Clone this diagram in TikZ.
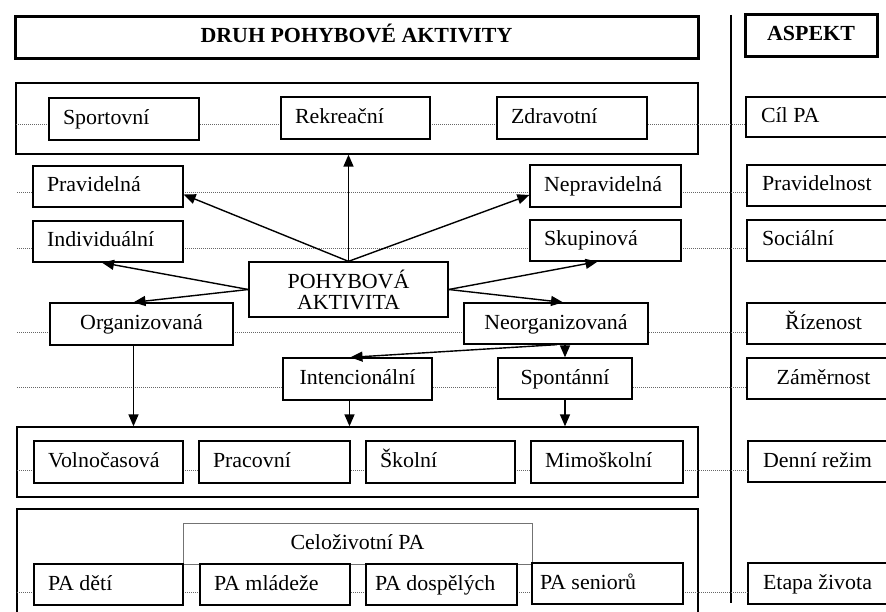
\documentclass[tikz,border=0pt]{standalone}
\usepackage{fontspec}
\setmainfont{Liberation Serif}[FakeStretch=1.02]
\usetikzlibrary{arrows.meta,calc}
\newcommand\bx[9]{% #1 style, #2 name, #3 x1, #4 y1, #5 x2, #6 y2, #7 pad, #8 l/c, #9 text
  \pgfmathsetmacro\bxw{#5-#3}\pgfmathsetmacro\bxh{#6-#4}\pgfmathsetmacro\bxt{#5-#3-2*#7}%
  \pgfmathsetmacro\bxcx{(#3+#5)/2}\pgfmathsetmacro\bxcy{(#4+#6)/2}%
  \node[#1, inner xsep=#7pt, inner ysep=0pt, minimum width=\bxw pt, minimum height=\bxh pt] (#2) at (\bxcx,\bxcy) {\makebox[\bxt pt][#8]{#9}};}
\tikzset{
  every node/.style={font=\fontsize{21.5}{24}\selectfont, text height=15pt, text depth=4pt},
  grp/.style={draw=black, line width=1.3pt},
  lbox/.style={draw=black, fill=white, line width=1.3pt},
  cbox/.style={draw=black, fill=white, line width=1.3pt},
  headbox/.style={draw=black, fill=white, line width=3pt, text height=14pt, text depth=4pt, font=\fontsize{21.5}{24}\selectfont\bfseries},
  lifebox/.style={draw=black!55, line width=0.8pt},
  dotline/.style={draw=black!60, line width=1pt, densely dotted},
  arr/.style={draw=black, line width=1.4pt, -{Triangle[length=12pt,width=10pt]}},
  vline/.style={draw=black, line width=1.3pt}
}
\begin{document}
\begin{tikzpicture}[x=1pt,y=-1pt]
\useasboundingbox (0,0) rectangle (886,612);
\fill[white] (0,0) rectangle (886,612);
\clip (0,0) rectangle (886,612);

% group boxes
\bx{grp}{g1}{16}{83}{698}{154}{0}{c}{}
\bx{grp}{g3}{17}{427}{698}{497}{0}{c}{}
\bx{grp}{g4}{17}{509}{698}{660}{0}{c}{}

% vertical separator
\coordinate (vt) at (731,15);
\coordinate (vb) at (731,603);
\draw[vline] (vt) -- (vb);

% header boxes
\bx{headbox}{title}{15}{17}{698}{59}{0}{c}{DRUH POHYBOVÉ AKTIVITY}
\bx{headbox}{aspekt}{745}{15}{877}{57}{0}{c}{ASPEKT}

% aspect column boxes (right edge cut by the page)
\bx{lbox}{cil}{746}{97}{900}{137}{15}{l}{Cíl PA}
\bx{lbox}{pravidelnost}{747}{165}{900}{206}{15}{l}{Pravidelnost}
\bx{lbox}{socialni}{747}{220}{900}{261}{15}{l}{Sociální}
\bx{cbox}{rizenost}{747}{303}{900}{344}{15}{c}{Řízenost}
\bx{cbox}{zamernost}{747}{358}{900}{399}{15}{c}{Záměrnost}
\bx{lbox}{denni}{748}{441}{900}{482}{15}{l}{Denní režim}
\bx{lbox}{etapa}{748}{563}{900}{604}{15}{l}{Etapa života}

% dotted rows
\coordinate (d1) at (16,125);
\coordinate (d2) at (17,193);
\coordinate (d3) at (17,249);
\coordinate (d4) at (17,332);
\coordinate (d5) at (17,387);
\coordinate (d6) at (17,470);
\coordinate (d7) at (17,592);
\draw[dotline] (d1) -- (d1 -| cil.west);
\draw[dotline] (d2) -- (d2 -| pravidelnost.west);
\draw[dotline] (d3) -- (d3 -| socialni.west);
\draw[dotline] (d4) -- (d4 -| rizenost.west);
\draw[dotline] (d5) -- (d5 -| zamernost.west);
\draw[dotline] (d6) -- (d6 -| denni.west);
\draw[dotline] (d7) -- (d7 -| etapa.west);

% row 1
\bx{lbox}{sport}{49}{98}{199}{140}{14}{l}{Sportovní}
\bx{lbox}{rekr}{281}{97}{430}{139}{14}{l}{Rekreační}
\bx{lbox}{zdrav}{497}{97}{647}{139}{14}{l}{Zdravotní}

% rows 2-3
\bx{lbox}{prav}{33}{166}{183}{207}{14}{l}{Pravidelná}
\bx{lbox}{neprav}{530}{165}{681}{207}{14}{l}{Nepravidelná}
\bx{lbox}{indiv}{33}{221}{183}{262}{14}{l}{Individuální}
\bx{lbox}{skup}{530}{220}{681}{261}{14}{l}{Skupinová}

% central node
\node[cbox, align=center, inner sep=0pt, minimum width=199pt, minimum height=55pt, text height=, text depth=] (pa) at (348.5,289.5) {POHYBOVÁ\\[-3pt]AKTIVITA};

% rows 4-5
\bx{cbox}{org}{50}{303}{233}{345}{5}{c}{Organizovaná}
\bx{cbox}{neorg}{464}{303}{648}{344}{5}{c}{Neorganizovaná}
\bx{cbox}{intenc}{283}{358}{432}{400}{5}{c}{Intencionální}
\bx{cbox}{spont}{498}{358}{632}{399}{5}{c}{Spontánní}

% row 6
\bx{lbox}{volno}{34}{441}{183}{483}{14}{l}{Volnočasová}
\bx{lbox}{prac}{199}{441}{350}{483}{14}{l}{Pracovní}
\bx{lbox}{skol}{366}{441}{515}{483}{14}{l}{Školní}
\bx{lbox}{mimo}{531}{441}{683}{483}{14}{l}{Mimoškolní}

% row 7
\bx{lifebox}{celo}{183}{523}{532}{564}{5}{c}{Celoživotní PA}
\bx{lbox}{deti}{34}{564}{183}{605}{14}{l}{PA dětí}
\bx{lbox}{mladez}{200}{564}{350}{605}{14}{l}{PA mládeže}
\bx{lbox}{dosp}{366}{564}{517}{605}{9}{l}{PA dospělých}
\bx{lbox}{senior}{532}{563}{683}{604}{8}{l}{PA seniorů}

% arrows
\draw[arr] (pa.north) -- (pa.north |- g1.south);
\draw[arr] (pa.north) -- ($(prav.east)+(0,8)$);
\draw[arr] (pa.north) -- ($(neprav.west)+(0,9)$);
\draw[arr] (pa.west) -- ($(indiv.south)+(-6,0)$);
\draw[arr] (pa.west) -- ($(org.north)+(-8,0)$);
\draw[arr] (pa.east) -- ($(skup.south)+(-8,0)$);
\draw[arr] (pa.east) -- ($(neorg.north)+(7,0)$);
\coordinate (nb) at ($(neorg.south)+(1,0)$);
\draw[arr] (nb) -- ($(intenc.north)+(-7,0)$);
\draw[arr] (spont.north |- neorg.south) -- (spont.north);
\coordinate (ob) at ($(org.south)+(-8,0)$);
\draw[arr] (ob) -- (ob |- g3.north);
\coordinate (ib) at ($(intenc.south)+(-8,0)$);
\draw[arr] (ib) -- (ib |- g3.north);
\draw[arr] (spont.south) -- (spont.south |- g3.north);
\end{tikzpicture}
\end{document}
